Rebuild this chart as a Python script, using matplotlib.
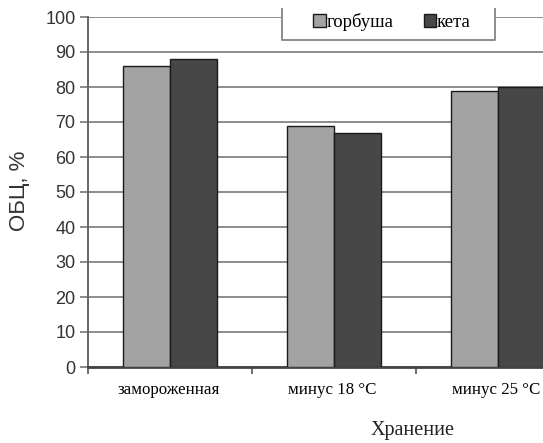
import matplotlib
matplotlib.use("Agg")
import matplotlib.pyplot as plt
from matplotlib.patches import Rectangle
from matplotlib.lines import Line2D
import numpy as np

categories = ["замороженная", "минус 18 °C", "минус 25 °C"]
series_names = ["горбуша", "кета"]
gorbusha = [86, 69, 79]
keta = [88, 67, 80]
y_ticks = [0, 10, 20, 30, 40, 50, 60, 70, 80, 90, 100]

W, H = 543, 443
fig = plt.figure(figsize=(W / 100, H / 100), dpi=100)
fig.patch.set_facecolor("white")

# plot area: left spine at x=88, zero line at y=367, 100 line at y=17;
# the third category boundary lies beyond the right edge of the figure
left, right, top, bottom = 88, 580, 17, 367
ax = fig.add_axes([left / W, 1 - bottom / H, (right - left) / W, (bottom - top) / H])

x = np.arange(len(categories)) + 0.5
bw = 0.285
ax.bar(x - bw / 2, gorbusha, bw, color="#a3a3a3", edgecolor="#1a1a1a", linewidth=1.0,
       label=series_names[0], zorder=3)
ax.bar(x + bw / 2, keta, bw, color="#474747", edgecolor="#1a1a1a", linewidth=1.0,
       label=series_names[1], zorder=3)

ax.set_xlim(0, 3)
ax.set_ylim(0, 100)
ax.set_yticks(y_ticks)
ax.set_xticks([0, 1, 2, 3])
ax.set_xticklabels([])
ax.set_xticks(x - 0.01, minor=True)
ax.set_xticklabels(categories, minor=True, family="Liberation Serif", fontsize=12.2)
ax.tick_params(axis="x", which="minor", length=0, pad=11)
ax.tick_params(axis="x", which="major", length=5, width=1.2, color="#555555", direction="out")
ax.tick_params(axis="y", length=6, width=1.2, color="#777777", direction="out", pad=3,
               labelsize=13, labelcolor="#333333")
for lab in ax.get_yticklabels():
    lab.set_family("Liberation Sans")

ax.grid(axis="y", color="#8c8c8c", linewidth=1.4, zorder=0)
ax.set_axisbelow(True)
for s in ["top", "right"]:
    ax.spines[s].set_visible(False)
ax.spines["left"].set_color("#666666")
ax.spines["left"].set_linewidth(1.4)
ax.spines["bottom"].set_color("#444444")
ax.spines["bottom"].set_linewidth(2.0)

fig.text(20 / W, 1 - 191 / H, "ОБЦ, %", rotation=90, ha="center", va="center",
         family="Liberation Sans", fontsize=16, color="#333333")
fig.text(413 / W, 1 - 431 / H, "Хранение", ha="center", va="center",
         family="Liberation Serif", fontsize=14.5, color="#222222")

# legend box: white panel with left, bottom and right edges
fig.patches.append(Rectangle((282 / W, 1 - 40 / H), (495 - 282) / W, 34 / H,
                             transform=fig.transFigure, facecolor="white",
                             edgecolor="none", zorder=2))
fig.lines.append(Line2D([282 / W, 282 / W, 495 / W, 495 / W],
                        [1 - 9 / H, 1 - 40 / H, 1 - 40 / H, 1 - 9 / H],
                        transform=fig.transFigure, color="#8c8c8c", linewidth=1.4,
                        zorder=3))
handles, labels = ax.get_legend_handles_labels()
leg = fig.legend(handles, labels, loc="center", bbox_to_anchor=(392 / W, 1 - 22 / H),
                 ncol=2, frameon=False, handlelength=0.65, handleheight=0.65,
                 handletextpad=0.05, columnspacing=1.6,
                 prop={"family": "Liberation Serif", "size": 13.5})
leg.set_zorder(5)

fig.savefig("out.png", dpi=100, facecolor="white")
